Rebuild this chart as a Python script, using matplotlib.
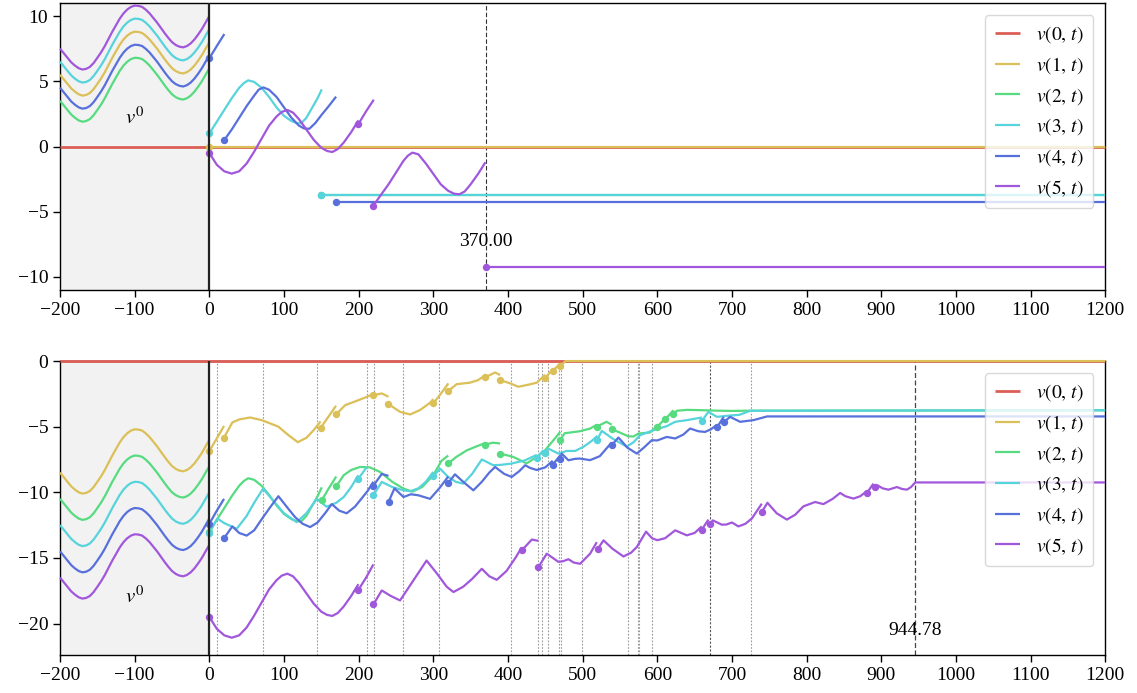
import matplotlib
matplotlib.use('Agg')
import matplotlib.pyplot as plt

plt.rcParams['font.family'] = ['Liberation Serif', 'DejaVu Serif']
plt.rcParams['mathtext.fontset'] = 'stix'
plt.rcParams['font.size'] = 14
plt.rcParams['axes.unicode_minus'] = True

labels = [r'$v(0,\,t)$', r'$v(1,\,t)$', r'$v(2,\,t)$', r'$v(3,\,t)$', r'$v(4,\,t)$', r'$v(5,\,t)$']
colors = ['#db5f57', '#dbbf57', '#57db80', '#57d3db', '#5770db', '#a157db']

x_ticks = [-200, -100, 0, 100, 200, 300, 400, 500, 600, 700, 800, 900, 1000, 1100, 1200]

# ---- history v0 on [-200, 0] ----
hist_t = [-200, -195, -190, -185, -180, -175, -170, -165, -160, -155, -150, -145, -140, -135, -130,
          -125, -120, -115, -110, -105, -100, -95, -90, -85, -80, -75, -70, -65, -60, -55, -50,
          -45, -40, -35, -30, -25, -20, -15, -10, -5, 0]

top_hist_v0 = [0.0] * 41
top_hist_v1 = [5.5, 5.15, 4.8, 4.45, 4.2, 4.0, 3.9, 3.95, 4.1, 4.4, 4.8, 5.22, 5.7, 6.25, 6.8, 7.3, 7.8, 8.2,
               8.5, 8.7, 8.8, 8.78, 8.7, 8.48, 8.2, 7.85, 7.5, 7.1, 6.7, 6.33, 6.0, 5.78, 5.65, 5.6, 5.7,
               5.9, 6.2, 6.58, 7.0, 7.5, 8.0]
top_hist_v2 = [3.5, 3.15, 2.8, 2.45, 2.2, 2.0, 1.9, 1.95, 2.1, 2.4, 2.8, 3.22, 3.7, 4.25, 4.8, 5.3, 5.8, 6.2,
               6.5, 6.7, 6.8, 6.78, 6.7, 6.48, 6.2, 5.85, 5.5, 5.1, 4.7, 4.33, 4.0, 3.78, 3.65, 3.6, 3.7,
               3.9, 4.2, 4.58, 5.0, 5.5, 6.0]
top_hist_v3 = [6.5, 6.15, 5.8, 5.45, 5.2, 5.0, 4.9, 4.95, 5.1, 5.4, 5.8, 6.22, 6.7, 7.25, 7.8, 8.3, 8.8, 9.2,
               9.5, 9.7, 9.8, 9.78, 9.7, 9.48, 9.2, 8.85, 8.5, 8.1, 7.7, 7.33, 7.0, 6.78, 6.65, 6.6, 6.7,
               6.9, 7.2, 7.58, 8.0, 8.5, 9.0]
top_hist_v4 = [4.5, 4.15, 3.8, 3.45, 3.2, 3.0, 2.9, 2.95, 3.1, 3.4, 3.8, 4.22, 4.7, 5.25, 5.8, 6.3, 6.8, 7.2,
               7.5, 7.7, 7.8, 7.78, 7.7, 7.48, 7.2, 6.85, 6.5, 6.1, 5.7, 5.33, 5.0, 4.78, 4.65, 4.6, 4.7,
               4.9, 5.2, 5.58, 6.0, 6.5, 7.0]
top_hist_v5 = [7.5, 7.15, 6.8, 6.45, 6.2, 6.0, 5.9, 5.95, 6.1, 6.4, 6.8, 7.22, 7.7, 8.25, 8.8, 9.3, 9.8, 10.2,
               10.5, 10.7, 10.8, 10.78, 10.7, 10.48, 10.2, 9.85, 9.5, 9.1, 8.7, 8.33, 8.0, 7.78, 7.65, 7.6,
               7.7, 7.9, 8.2, 8.58, 9.0, 9.5, 10.0]

bot_hist_v0 = [0.0] * 41
bot_hist_v1 = [-8.5, -8.85, -9.2, -9.55, -9.8, -10.0, -10.1, -10.05, -9.9, -9.6, -9.2, -8.78, -8.3, -7.75,
               -7.2, -6.7, -6.2, -5.8, -5.5, -5.3, -5.2, -5.22, -5.3, -5.52, -5.8, -6.15, -6.5, -6.9, -7.3,
               -7.67, -8.0, -8.22, -8.35, -8.4, -8.3, -8.1, -7.8, -7.42, -7.0, -6.5, -6.0]
bot_hist_v2 = [-10.5, -10.85, -11.2, -11.55, -11.8, -12.0, -12.1, -12.05, -11.9, -11.6, -11.2, -10.78, -10.3,
               -9.75, -9.2, -8.7, -8.2, -7.8, -7.5, -7.3, -7.2, -7.22, -7.3, -7.52, -7.8, -8.15, -8.5, -8.9,
               -9.3, -9.67, -10.0, -10.22, -10.35, -10.4, -10.3, -10.1, -9.8, -9.42, -9.0, -8.5, -8.0]
bot_hist_v3 = [-12.5, -12.85, -13.2, -13.55, -13.8, -14.0, -14.1, -14.05, -13.9, -13.6, -13.2, -12.78, -12.3,
               -11.75, -11.2, -10.7, -10.2, -9.8, -9.5, -9.3, -9.2, -9.22, -9.3, -9.52, -9.8, -10.15, -10.5,
               -10.9, -11.3, -11.67, -12.0, -12.22, -12.35, -12.4, -12.3, -12.1, -11.8, -11.42, -11.0, -10.5,
               -10.0]
bot_hist_v4 = [-14.5, -14.85, -15.2, -15.55, -15.8, -16.0, -16.1, -16.05, -15.9, -15.6, -15.2, -14.78, -14.3,
               -13.75, -13.2, -12.7, -12.2, -11.8, -11.5, -11.3, -11.2, -11.22, -11.3, -11.52, -11.8, -12.15,
               -12.5, -12.9, -13.3, -13.67, -14.0, -14.22, -14.35, -14.4, -14.3, -14.1, -13.8, -13.42, -13.0,
               -12.5, -12.0]
bot_hist_v5 = [-16.5, -16.85, -17.2, -17.55, -17.8, -18.0, -18.1, -18.05, -17.9, -17.6, -17.2, -16.78, -16.3,
               -15.75, -15.2, -14.7, -14.2, -13.8, -13.5, -13.3, -13.2, -13.22, -13.3, -13.52, -13.8, -14.15,
               -14.5, -14.9, -15.3, -15.67, -16.0, -16.22, -16.35, -16.4, -16.3, -16.1, -15.8, -15.42, -15.0,
               -14.5, -14.0]

# ---- solution segments for t >= 0 (first point of each segment is marked) ----
top_segs_v0 = [[(0, 0.0), (1200, 0.0)]]
top_segs_v1 = [[(0, 0.0), (1200, 0.0)]]
top_segs_v2 = [[(149.7, -3.74), (1200, -3.74)]]
top_segs_v3 = [
    [(0, 1.0), (10, 1.9), (20, 2.8), (30, 3.7), (40, 4.5), (46, 4.85), (52, 5.07), (60, 4.95), (70, 4.5),
     (80, 3.8), (90, 3.0), (100, 2.35), (110, 1.95), (117, 1.8), (123, 1.78), (130, 2.2), (138, 3.0),
     (145, 3.7), (150.6, 4.38)],
    [(149.7, -3.74), (1200, -3.74)],
]
top_segs_v4 = [
    [(0, 6.76), (10, 7.7), (20.1, 8.62)],
    [(19.7, 0.47), (30, 1.3), (40, 2.2), (50, 3.1), (60, 3.9), (66, 4.35), (72.4, 4.53), (80, 4.35), (90, 3.8),
     (100, 3.0), (110, 2.2), (120, 1.6), (127, 1.38), (134, 1.36), (142, 1.8), (150, 2.4), (160, 3.1),
     (169.8, 3.82)],
    [(169.4, -4.25), (1200, -4.25)],
]
top_segs_v5 = [
    [(0, -0.5), (10, -1.4), (20, -1.9), (30, -2.08), (40, -1.9), (50, -1.3), (60, -0.4), (72, 0.8), (80, 1.6),
     (90, 2.3), (97, 2.65), (104.5, 2.8), (112, 2.6), (120, 2.1), (130, 1.3), (140, 0.5), (150, -0.1),
     (158, -0.35), (164.8, -0.42), (172, -0.2), (180, 0.3), (190, 1.1), (199.7, 2.0)],
    [(199.7, 1.72), (210, 2.7), (220.3, 3.59)],
    [(219.7, -4.53), (230, -3.7), (240, -2.9), (250, -2.0), (260, -1.1), (266, -0.7), (272, -0.47), (280, -0.6),
     (290, -1.3), (300, -2.1), (310, -2.9), (320, -3.4), (328, -3.62), (335, -3.66), (342, -3.45), (350, -2.9),
     (360, -2.1), (369.8, -1.21)],
    [(370, -9.23), (1200, -9.23)],
]

bot_segs_v0 = [[(0, 0.0), (1200, 0.0)]]
bot_segs_v1 = [
    [(0, -6.85), (10, -5.9), (19.7, -4.94)],
    [(19.7, -5.83), (30.8, -4.68), (40, -4.45), (54.5, -4.3), (70, -4.5), (80, -4.72), (92.5, -5.0), (105, -5.6),
     (118.4, -6.18), (130, -5.85), (140, -5.25), (149, -4.6)],
    [(149.2, -5.09), (160, -4.2), (169.7, -3.41)],
    [(169.7, -4.07), (182, -3.36), (197.5, -3.03), (210, -2.75), (219.7, -2.5)],
    [(219.7, -2.6), (231, -2.47), (240, -2.72)],
    [(239.9, -3.28), (255.5, -3.87), (269, -4.07), (282, -3.74), (295.7, -3.18), (300, -2.9)],
    [(300, -3.23), (310, -2.5), (320.2, -1.7)],
    [(320.2, -2.27), (331.4, -1.76), (349, -1.65), (360, -1.45), (369.4, -1.1)],
    [(369.4, -1.25), (382.8, -0.87), (389.5, -1.07)],
    [(389.5, -1.45), (403, -1.7), (414, -1.96), (425, -1.83), (438.6, -1.65), (449.7, -1.05)],
    [(449.7, -1.32), (460, -0.6)],
    [(460, -0.74), (470, -0.2)],
    [(470, -0.4), (477, 0.0), (1200, 0.0)],
]
bot_segs_v2 = [
    [(0, -13.0), (10, -12.1), (20, -11.2), (30, -10.3), (40, -9.5), (46, -9.15), (52, -8.93), (60, -9.05),
     (70, -9.5), (80, -10.2), (90, -11.0), (100, -11.65), (110, -12.05), (117, -12.2), (123, -12.22),
     (130, -11.8), (138, -11.0), (145, -10.3), (150.6, -9.62)],
    [(150.6, -10.6), (160, -9.7), (170, -8.8)],
    [(170, -9.54), (180, -8.7), (190, -8.3), (202, -8.07), (215, -8.1), (228.7, -8.45), (245, -9.2), (260, -9.72),
     (272, -9.95), (285, -9.6), (300, -8.7), (311, -7.6), (320, -7.2)],
    [(320, -7.8), (331, -7.3), (345, -6.8), (358, -6.5), (369.4, -6.25)],
    [(369.4, -6.36), (380, -6.22), (389.5, -6.28)],
    [(389.5, -7.05), (407, -7.3), (425, -7.8), (438.6, -7.3), (449.7, -6.8), (460, -6.1), (470, -5.4)],
    [(470, -6.03), (476, -5.5), (483, -5.45), (496, -5.35), (510, -5.15), (519, -4.85)],
    [(519, -5.0), (532, -4.63), (539, -4.85)],
    [(539, -5.2), (550, -5.45), (561, -5.73), (568, -5.75), (575, -5.52), (590, -5.45), (599.4, -5.0)],
    [(599.4, -5.06), (610.5, -4.37)],
    [(610.5, -4.45), (621.6, -3.75)],
    [(621.6, -4.07), (626, -3.79), (640, -3.72), (657, -3.74), (680, -3.78), (700, -3.8), (724, -3.78),
     (1200, -3.75)],
]
bot_segs_v3 = [
    [(0, -13.08), (10.7, -12.0), (20, -12.35), (36.7, -12.78), (50, -11.8), (60, -10.8), (72, -9.72), (85, -10.6),
     (100, -11.6), (117, -12.27), (130, -11.6), (144, -10.5), (157, -11.1), (170, -10.8), (180, -10.36),
     (190, -9.6), (199.7, -8.7)],
    [(199.7, -8.96), (211, -8.07)],
    [(219.7, -10.23), (231, -9.21), (245, -9.6), (260, -9.85), (269, -9.92), (280, -9.7), (290, -9.2),
     (300, -8.45)],
    [(300, -8.78), (309, -8.2), (320, -8.83), (330, -9.2), (340, -9.34), (352, -8.6), (365, -7.5), (380.5, -7.94),
     (392, -7.9), (405, -7.81), (423, -7.56), (438.6, -7.15)],
    [(438.6, -7.36), (447.5, -6.8)],
    [(449.7, -7.0), (454, -6.67), (467.6, -7.05), (478.8, -6.85), (490, -6.85), (501, -6.54), (512, -6.1),
     (519.8, -5.7)],
    [(519.8, -5.98), (525.7, -5.32), (540, -5.9), (559, -6.52), (568, -6.2), (577, -5.65), (595, -5.27),
     (612.8, -4.96), (624, -4.63), (640, -4.5), (659.7, -4.3)],
    [(659.7, -4.58), (668.5, -3.87), (680, -4.25), (697.6, -4.15), (710, -4.1), (724.4, -3.79), (1200, -3.75)],
]
bot_segs_v4 = [
    [(0, -12.4), (10, -11.4), (19.7, -10.5)],
    [(19.7, -13.5), (30.8, -12.6), (40, -13.1), (50, -13.3), (60, -12.9), (72, -11.9), (82, -11.1), (92.5, -10.3),
     (105, -11.2), (115, -11.9), (125, -12.4), (135, -12.65), (145, -12.3), (155, -11.6), (164, -10.9),
     (174, -11.4), (184, -11.6), (195, -11.1), (205, -10.4), (212, -9.9), (219.7, -9.2)],
    [(219.7, -9.5), (231, -8.6), (240, -8.75)],
    [(240, -10.74), (248, -9.7), (260, -10.36), (270, -10.15), (280, -10.23), (295.7, -10.5), (308, -9.7),
     (320, -8.8)],
    [(320, -9.3), (329, -8.63), (340, -9.2), (353.7, -9.85), (365, -9.2), (375, -8.5), (382.8, -8.07),
     (395, -8.6), (405, -8.83), (415, -8.4), (423, -7.94), (430, -8.15), (438.6, -8.3), (450, -8.1),
     (460, -7.6)],
    [(460, -7.89), (470, -7.2)],
    [(470, -7.43), (472, -7.05), (481, -7.56), (490, -7.45), (496.6, -7.43), (510, -7.55), (523, -7.25),
     (539, -6.2)],
    [(539, -6.41), (548, -5.83), (560, -6.6), (572.6, -7.05), (582, -6.6), (592.7, -6.03), (600, -6.05),
     (612.8, -5.78), (624, -5.9), (635, -5.6), (644, -5.14), (655, -5.35), (664, -5.4), (672, -5.2),
     (680, -4.85)],
    [(680, -5.06), (689, -4.25)],
    [(689.6, -4.63), (697.6, -4.25), (711, -4.63), (729, -4.5), (742, -4.3), (747, -4.22), (1200, -4.22)],
]
bot_segs_v5 = [
    [(0, -19.5), (10, -20.4), (20, -20.9), (30, -21.08), (40, -20.9), (50, -20.3), (60, -19.4), (72, -18.2),
     (80, -17.4), (90, -16.7), (97, -16.35), (104.5, -16.2), (112, -16.4), (120, -16.9), (130, -17.7),
     (140, -18.5), (150, -19.1), (158, -19.35), (164.8, -19.42), (172, -19.2), (180, -18.7), (190, -17.9),
     (199.7, -17.0)],
    [(199.7, -17.43), (210, -16.5), (219.7, -15.5)],
    [(219.7, -18.55), (231, -17.48), (243, -17.9), (255.5, -18.24), (270, -17.0), (291, -15.2), (305, -16.2),
     (318, -17.2), (327, -17.6), (340, -17.2), (352, -16.6), (365, -15.83), (375, -16.4), (385, -16.67),
     (398, -16.0), (410, -15.0), (418.5, -14.2)],
    [(418.5, -14.43), (432, -13.6), (440.8, -13.7)],
    [(440.8, -15.7), (452, -14.68), (467.6, -15.3), (474, -15.25), (481, -15.1), (488, -15.35), (496.6, -15.45),
     (510, -14.68), (519, -13.8)],
    [(520, -14.35), (528, -13.66), (540, -14.3), (554.7, -14.89), (565, -14.6), (572.6, -14.17), (585, -13.0),
     (593, -13.5), (600, -13.65), (610.5, -13.5), (624, -12.9), (639.6, -13.28), (650, -13.1), (659.7, -12.6)],
    [(659.7, -12.85), (668.5, -12.08)],
    [(670.8, -12.4), (674.4, -12.14), (686.5, -12.47), (693, -12.45), (700, -12.3), (708.7, -12.6),
     (718, -12.4), (726.7, -12.0), (740, -10.87)],
    [(740, -11.5), (747.6, -10.8), (760, -11.6), (773.6, -12.08), (785, -11.7), (795.8, -11.07),
     (811.5, -10.74), (822.6, -10.9), (835, -10.5), (845, -10.05), (852, -10.3), (862.8, -10.48),
     (872, -10.3), (880.8, -9.9)],
    [(880.8, -10.05), (889.6, -9.34)],
    [(891.9, -9.6), (895, -9.47), (902, -9.7), (909.7, -9.8), (921, -9.6), (928, -9.75), (934.4, -9.8),
     (940, -9.6), (945.5, -9.25), (1200, -9.25)],
]

top_event_t = 370.0
top_event_label = '370.00'
bot_event_t = 944.78
bot_event_label = '944.78'
bot_grid_t = [10.7, 72, 144, 211, 220, 260, 308, 404, 440, 445, 454, 469, 471, 499, 561, 574, 576, 593, 725]
bot_grid_dark_t = [670]

top_hist = [top_hist_v0, top_hist_v1, top_hist_v2, top_hist_v3, top_hist_v4, top_hist_v5]
bot_hist = [bot_hist_v0, bot_hist_v1, bot_hist_v2, bot_hist_v3, bot_hist_v4, bot_hist_v5]
top_segs = [top_segs_v0, top_segs_v1, top_segs_v2, top_segs_v3, top_segs_v4, top_segs_v5]
bot_segs = [bot_segs_v0, bot_segs_v1, bot_segs_v2, bot_segs_v3, bot_segs_v4, bot_segs_v5]

fig = plt.figure(figsize=(11.37, 6.93), dpi=100)
ax1 = fig.add_axes([0.0528, 0.5815, 0.9192, 0.4142])
ax2 = fig.add_axes([0.0528, 0.0548, 0.9192, 0.4242])


def draw(ax, hists, segs, ylim, v0_y):
    ax.axvspan(-200, 0, color='#f2f2f2', zorder=0)
    handles = []
    for i in range(6):
        lw = 2.0 if i == 0 else 1.6
        h, = ax.plot(hist_t, hists[i], color=colors[i], lw=lw, label=labels[i], zorder=3,
                     clip_on=False, solid_capstyle='butt')
        handles.append(h)
        for seg in segs[i]:
            ts = [p[0] for p in seg]
            vs = [p[1] for p in seg]
            ax.plot(ts, vs, color=colors[i], lw=lw, zorder=3, clip_on=False, solid_capstyle='butt')
            if i > 0:
                ax.plot([ts[0]], [vs[0]], 'o', color=colors[i], ms=4.3, zorder=4)
    ax.axvline(0, color='#222222', lw=1.6, zorder=5)
    ax.text(-100, v0_y, r'$v^0$', ha='center', va='center', fontsize=15)
    ax.set_xlim(-200, 1200)
    ax.set_ylim(*ylim)
    ax.set_xticks(x_ticks)
    ax.tick_params(direction='out', length=5, width=1, labelsize=14)
    for s in ax.spines.values():
        s.set_linewidth(1.0)
    leg = ax.legend(handles=handles, loc='upper right', fontsize=14, handlelength=1.3,
                    labelspacing=0.5, framealpha=0.8, edgecolor='#d0d0d0', borderpad=0.5,
                    handletextpad=0.8, borderaxespad=0.6)
    leg.get_frame().set_linewidth(1.0)
    leg.set_zorder(10)
    return ax


draw(ax1, top_hist, top_segs, (-11, 11), 2.2)
ax1.set_yticks([-10, -5, 0, 5, 10])
ax1.axvline(top_event_t, color='#333333', lw=0.8, ls=(0, (4, 2)), zorder=2)
ax1.text(top_event_t, -7.25, top_event_label, ha='center', va='center', fontsize=14)

draw(ax2, bot_hist, bot_segs, (-22.4, 0), -18.0)
ax2.set_yticks([-20, -15, -10, -5, 0])
for gt in bot_grid_t:
    ax2.axvline(gt, color='#999999', lw=0.8, ls=(0, (1.5, 1.5)), zorder=1)
for gt in bot_grid_dark_t:
    ax2.axvline(gt, color='#555555', lw=0.8, ls=(0, (2, 1.5)), zorder=1)
ax2.axvline(bot_event_t, color='#444444', lw=0.9, ls=(0, (4, 2)), zorder=2)
ax2.text(bot_event_t, -20.5, bot_event_label, ha='center', va='center', fontsize=14)

fig.savefig('out.png', dpi=100)
